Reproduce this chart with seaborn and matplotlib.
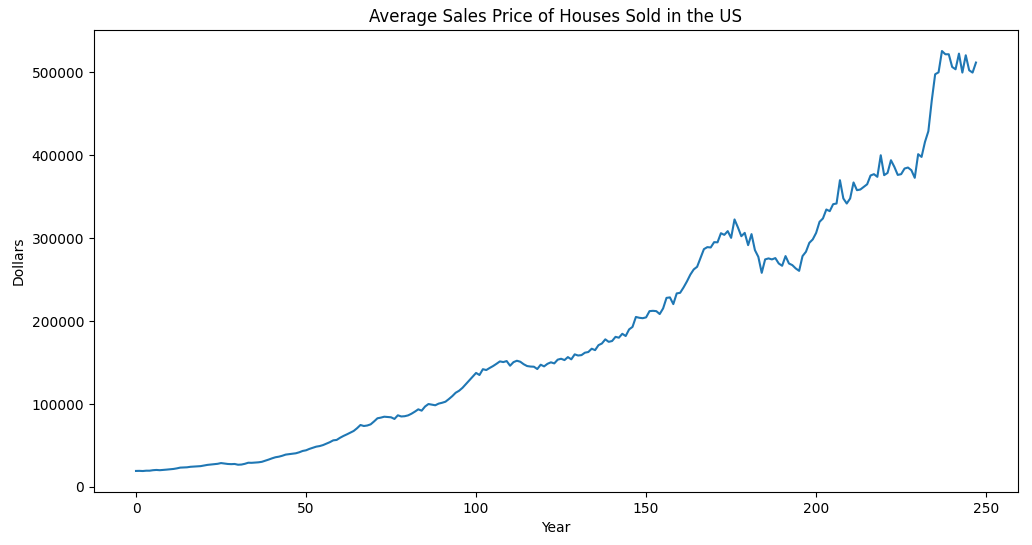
import matplotlib
matplotlib.use("Agg")
import matplotlib.pyplot as plt
import seaborn as sns
import pandas as pd

prices = [
    19300, 19400, 19200, 19600, 19600, 20200, 20500, 20200, 20500, 20900,
    21300, 21700, 22400, 23300, 23500, 23700, 24300, 24600, 24900, 25100,
    25800, 26600, 27000, 27500, 27900, 28800, 28300, 27700, 27500, 27700,
    26800, 27000, 27900, 29200, 29100, 29400, 29700, 30300, 31600, 33000,
    34500, 35800, 36500, 37600, 39000, 39500, 40000, 40600, 41800, 43400,
    44200, 45900, 47300, 48600, 49300, 50500, 52200, 54000, 56200, 56700,
    59300, 61500, 63400, 65500, 67500, 70800, 74700, 73500, 74100, 75500,
    79000, 82800, 83600, 84700, 84400, 84000, 82000, 86400, 85000, 85300,
    86300, 88300, 90800, 93600, 92000, 97000, 100000, 99200, 98500, 100500,
    101500, 102800, 106000, 109500, 113600, 116000, 119500, 124000, 128500, 133000,
    137500, 135000, 142000, 141000, 143500, 145800, 148500, 151400, 150600, 151800,
    146200, 150500, 152200, 151000, 148000, 145800, 145200, 145000, 142200, 147400,
    145400, 148500, 150300, 149000, 153500, 154600, 153000, 156600, 153900, 159900,
    158500, 159000, 161900, 162700, 166700, 165000, 171000, 173000, 178000, 175000,
    176000, 181000, 180000, 184700, 182000, 190000, 193000, 205000, 204000, 203500,
    204500, 212000, 212400, 212000, 208500, 215300, 228000, 228600, 220500, 233400,
    234100, 240500, 247800, 256000, 262300, 265500, 276000, 286800, 289200, 288800,
    295200, 295000, 306000, 304000, 308500, 300400, 322600, 313000, 302400, 306400,
    291600, 304900, 285600, 277500, 258200, 274400, 275600, 274400, 276000, 269500,
    266700, 278400, 269500, 267500, 263500, 260600, 278400, 283600, 294400, 298500,
    306400, 319700, 323800, 334600, 332600, 341000, 341800, 369900, 347900, 341800,
    347900, 367200, 357900, 358700, 361900, 365000, 375600, 377200, 374000, 400000,
    376000, 378700, 394000, 386000, 376300, 377200, 384000, 385200, 382000, 372800,
    401300, 398000, 416000, 429000, 466000, 497700, 500000, 525700, 521800, 521800,
    506500, 503700, 522600, 499700, 520600, 502500, 499700, 511800,
]
years = list(range(len(prices)))

df = pd.DataFrame({"Year": years, "Dollars": prices})

fig = plt.figure(figsize=(10.32, 5.45), dpi=100)
ax = fig.add_axes([0.0911, 0.0972, 0.8953, 0.8477])
sns.lineplot(data=df, x="Year", y="Dollars", ax=ax, color="#1f77b4", linewidth=1.5)
ax.set_title("Average Sales Price of Houses Sold in the US")
ax.set_xlabel("Year")
ax.set_ylabel("Dollars")
fig.savefig("out.png", dpi=100)
